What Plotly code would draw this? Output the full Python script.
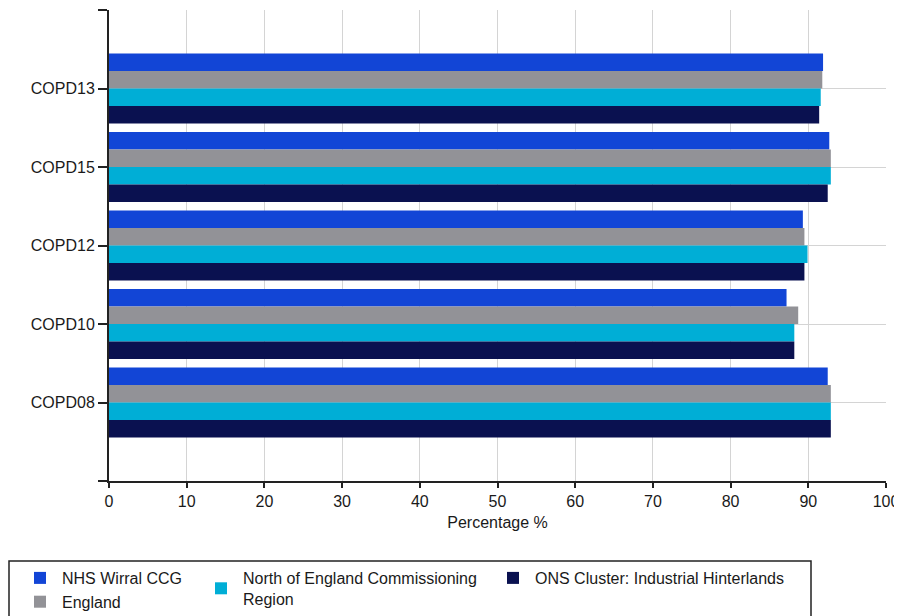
import plotly.graph_objects as go

# ---- data (top to bottom as drawn) ----
categories = ["COPD13", "COPD15", "COPD12", "COPD10", "COPD08"]
nhs_wirral = [91.9, 92.7, 89.3, 87.2, 92.5]
england = [91.8, 92.9, 89.5, 88.7, 92.9]
north_england = [91.6, 92.9, 89.9, 88.2, 92.9]
ons_cluster = [91.4, 92.5, 89.5, 88.2, 92.9]

series_names = ["NHS Wirral CCG", "England",
                "North of England Commissioning<br>Region",
                "ONS Cluster: Industrial Hinterlands"]
series_values = [nhs_wirral, england, north_england, ons_cluster]
series_colors = ["#1245D6", "#929297", "#00AED6", "#0A1150"]
series_legends = ["legend", "legend", "legend2", "legend3"]

x_ticks = list(range(0, 101, 10))

# ---- layout geometry (pixels) ----
# the page body adds an 8px offset; compensate so screen positions match
OFF = 8
W, H = 902, 616
ML, MR, MT, MB = 101, 24, 2, 143
PW, PH = W - ML - MR, H - MT - MB


def px_x(p):
    return (p - OFF - ML) / PW


def px_y(p):
    return (H - MB - (p - OFF)) / PH


FONT = "Liberation Sans, Arial, sans-serif"
TXT = "#1a1a1a"

ypos = list(range(1, len(categories) + 1))

fig = go.Figure()
for name, vals, col, lg in zip(series_names, series_values, series_colors, series_legends):
    fig.add_trace(go.Bar(
        x=vals, y=ypos, name=name, orientation="h",
        marker=dict(color=col, line=dict(width=0)),
        legend=lg,
    ))

legend_common = dict(
    orientation="v", xanchor="left", yanchor="top",
    bgcolor="rgba(0,0,0,0)", borderwidth=0,
    font=dict(family=FONT, size=16, color=TXT),
    itemwidth=34, tracegroupgap=0,
)

fig.update_layout(
    width=W, height=H,
    margin=dict(l=ML, r=MR, t=MT, b=MB, autoexpand=False),
    paper_bgcolor="white", plot_bgcolor="white",
    barmode="group", bargap=0.11, bargroupgap=0,
    font=dict(family=FONT, size=16, color=TXT),
    xaxis=dict(
        range=[0, 100], tickvals=x_ticks,
        showgrid=True, gridcolor="#d4d4d4", gridwidth=1,
        showline=True, linecolor="#222", linewidth=2,
        ticks="outside", ticklen=5, tickcolor="#222", tickwidth=2,
        zeroline=False,
        tickfont=dict(family=FONT, size=16, color=TXT),
        title=dict(text="Percentage %", standoff=8,
                   font=dict(family=FONT, size=16, color=TXT)),
    ),
    yaxis=dict(
        range=[len(categories) + 1, 0],
        tickvals=list(range(0, len(categories) + 2)),
        ticktext=[""] + categories + [""],
        showgrid=True, gridcolor="#d4d4d4", gridwidth=1,
        showline=True, linecolor="#222", linewidth=2,
        ticks="outside", ticklen=9, tickcolor="#222", tickwidth=2,
        zeroline=False,
        tickfont=dict(family=FONT, size=16, color=TXT),
    ),
    legend=dict(x=px_x(18), y=px_y(561), **legend_common),
    legend2=dict(x=px_x(199), y=px_y(561), **legend_common),
    legend3=dict(x=px_x(491), y=px_y(561), **legend_common),
    shapes=[dict(
        type="rect", xref="paper", yref="paper",
        x0=px_x(9), x1=px_x(811), y0=px_y(561), y1=px_y(640),
        line=dict(color="#222", width=1.5), fillcolor="rgba(0,0,0,0)",
    )],
    showlegend=True,
)

fig.write_html("out.html")
